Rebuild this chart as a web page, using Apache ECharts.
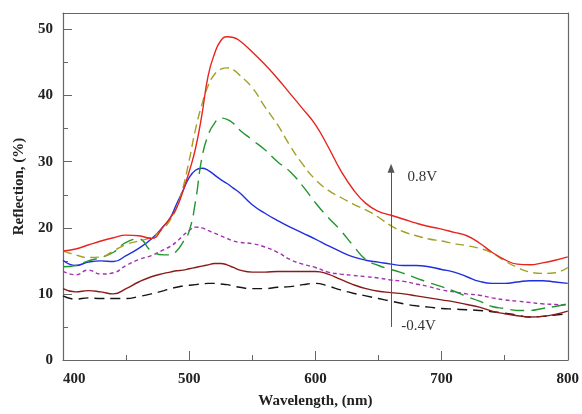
<!DOCTYPE html>
<html>
<head>
<meta charset="utf-8">
<script src="https://cdn.jsdelivr.net/npm/echarts@6/dist/echarts.min.js"></script>
<style>
  html, body { margin: 0; padding: 0; background: #fff; }
  #chart { width: 582px; height: 414px; }
</style>
</head>
<body>
<div id="chart"></div>
<script>
// wavelength grid (nm)
const wavelength = [400, 410, 420, 430, 440, 450, 460, 470, 480,
  485, 490, 495, 500, 505, 510, 515, 520, 525, 530, 535, 540,
  550, 560, 570, 580, 590, 600, 610, 620, 630, 640, 650, 660, 670, 680, 690,
  700, 710, 720, 730, 740, 750, 760, 770, 780, 790, 800]

// reflection (%) for each curve, from 0.8V down to -0.4V
const redVals = [16.5, 16.8, 17.4, 18.0, 18.5, 18.9, 18.8, 18.4, 20.3,
  21.5, 23.0, 25.5, 28.5, 32.0, 37.0, 43.0, 46.3, 48.3, 48.9, 48.8, 48.3,
  46.6, 44.7, 42.6, 40.3, 38.0, 35.6, 32.3, 28.7, 25.8, 23.7, 22.5, 21.9, 21.3, 20.7, 20.2,
  19.8, 19.3, 18.8, 17.7, 16.3, 15.2, 14.5, 14.4, 14.7, 15.1, 15.6]
const oliveVals = [16.5, 15.9, 15.5, 15.6, 16.5, 17.5, 18.0, 18.6, 20.0,
  21.2, 23.0, 26.0, 30.2, 34.9, 38.6, 41.5, 43.2, 44.0, 44.2, 43.9, 43.1,
  41.2, 38.3, 35.6, 32.4, 29.6, 27.3, 25.7, 24.6, 23.6, 22.7, 21.6, 20.3, 19.4, 18.8, 18.3,
  18.0, 17.6, 17.3, 16.9, 16.2, 15.0, 14.0, 13.3, 13.1, 13.2, 14.0]
const greenVals = [14.1, 14.3, 15.0, 15.5, 16.3, 17.8, 18.3, 16.5, 15.9,
  15.9, 16.5, 17.8, 19.5, 24.0, 30.5, 34.0, 35.8, 36.6, 36.4, 35.8, 34.8,
  33.3, 31.8, 30.0, 28.5, 26.3, 23.8, 21.6, 19.6, 17.3, 15.2, 14.3, 13.7, 13.1, 12.4, 11.7,
  11.1, 10.4, 9.6, 8.9, 8.1, 7.8, 7.5, 7.5, 7.8, 8.1, 8.5]
const blueVals = [15.1, 14.3, 14.8, 15.0, 14.9, 15.8, 16.9, 18.3, 20.3,
  21.5, 23.6, 25.6, 27.6, 28.7, 29.0, 28.7, 28.0, 27.3, 26.7, 26.0, 25.3,
  23.5, 22.2, 21.1, 20.1, 19.2, 18.3, 17.3, 16.4, 15.6, 15.1, 14.8, 14.5, 14.3, 14.3, 14.1,
  13.7, 13.3, 12.6, 11.9, 11.6, 11.6, 11.8, 12.0, 12.0, 11.8, 11.6]
const purpleVals = [13.4, 12.9, 13.6, 13.0, 13.2, 14.3, 15.2, 15.8, 16.7,
  17.2, 17.9, 18.8, 19.6, 20.1, 20.0, 19.6, 19.2, 18.8, 18.4, 18.0, 17.8,
  17.6, 17.1, 16.3, 15.2, 14.5, 14.0, 13.3, 13.0, 12.8, 12.6, 12.4, 12.1, 11.9, 11.5, 11.1,
  10.6, 10.3, 10.0, 9.8, 9.4, 9.1, 8.9, 8.7, 8.5, 8.4, 8.3]
const brownVals = [10.8, 10.3, 10.5, 10.3, 10.0, 10.8, 11.8, 12.6, 13.1,
  13.3, 13.5, 13.6, 13.8, 14.0, 14.2, 14.4, 14.6, 14.6, 14.4, 14.0, 13.6,
  13.3, 13.3, 13.4, 13.4, 13.4, 13.4, 13.0, 12.2, 11.4, 10.8, 10.4, 10.2, 10.0, 9.7, 9.4,
  9.1, 8.8, 8.4, 8.0, 7.4, 7.0, 6.7, 6.5, 6.6, 6.9, 7.4]
const blackVals = [9.7, 9.2, 9.4, 9.3, 9.3, 9.3, 9.6, 10.0, 10.5,
  10.8, 11.0, 11.2, 11.3, 11.4, 11.5, 11.6, 11.6, 11.5, 11.4, 11.2, 11.0,
  10.8, 10.8, 11.0, 11.1, 11.4, 11.6, 11.2, 10.6, 10.1, 9.7, 9.3, 8.9, 8.5, 8.2, 8.0,
  7.8, 7.7, 7.6, 7.5, 7.3, 7.1, 6.8, 6.5, 6.6, 6.8, 7.0]

// arrow from -0.4V up to 0.8V
const arrowX = 660
const arrowY = [5, 29]
const labelHigh = { text: '0.8V', at: [673, 27.7] }
const labelLow = { text: '-0.4V', at: [668, 5.1] }

const serif = '"Liberation Serif", "Times New Roman", serif'
const axisColor = '#666'

function pairs(vals) {
  return wavelength.map((w, i) => [w, vals[i]])
}

function line(vals, color, type, extra) {
  return Object.assign({
    type: 'line',
    data: pairs(vals),
    smooth: 0.5,
    symbol: 'none',
    lineStyle: { color: color, width: 1.4, type: type },
  }, extra || {})
}

// plain frame line for top / right
const frame = {
  show: true,
  axisLine: { show: true, onZero: false, lineStyle: { color: axisColor, width: 1.2 } },
  axisTick: { show: false },
  axisLabel: { show: false },
  splitLine: { show: false },
}

const chart = echarts.init(document.getElementById('chart'))
chart.setOption({
  animation: false,
  grid: { left: 63, right: 11, top: 13, bottom: 52 },
  xAxis: [
    {
      type: 'value',
      min: 400, max: 800, interval: 100,
      name: 'Wavelength, (nm)',
      nameLocation: 'middle',
      nameGap: 34,
      nameTextStyle: { fontFamily: serif, fontWeight: 'bold', fontSize: 15, color: '#222' },
      axisLine: { onZero: false, lineStyle: { color: axisColor, width: 1.2 } },
      axisTick: { inside: true, length: 9, lineStyle: { color: axisColor } },
      minorTick: { show: true, splitNumber: 2, length: 5, lineStyle: { color: axisColor } },
      splitLine: { show: false },
      axisLabel: {
        fontFamily: serif, fontWeight: 'bold', fontSize: 15, color: '#222',
        margin: 12, alignMinLabel: 'left',
      },
    },
    Object.assign({ type: 'value', position: 'top', min: 400, max: 800 }, frame),
  ],
  yAxis: [
    {
      type: 'value',
      min: 0, max: 52.5, interval: 10,
      name: 'Reflection, (%)',
      nameLocation: 'middle',
      nameGap: 36,
      nameTextStyle: { fontFamily: serif, fontWeight: 'bold', fontSize: 15, color: '#222' },
      axisLine: { show: true, onZero: false, lineStyle: { color: axisColor, width: 1.2 } },
      axisTick: { inside: true, length: 9, lineStyle: { color: axisColor } },
      splitLine: { show: false },
      axisLabel: {
        fontFamily: serif, fontWeight: 'bold', fontSize: 15, color: '#222',
        margin: 10, showMaxLabel: false,
      },
    },
    {
      // minor ticks only
      type: 'value',
      position: 'left',
      min: 0, max: 52.5, interval: 5,
      axisLine: { show: false },
      axisTick: { inside: true, length: 5, lineStyle: { color: axisColor } },
      splitLine: { show: false },
      axisLabel: { show: false },
    },
    Object.assign({ type: 'value', position: 'right', min: 0, max: 52.5 }, frame),
  ],
  series: [
    line(blackVals, '#151515', [10, 6]),
    line(brownVals, '#8b1a1a', 'solid'),
    line(purpleVals, '#a232b0', [4, 3]),
    line(blueVals, '#1f2fe0', 'solid'),
    line(greenVals, '#22962e', [14, 7]),
    line(oliveVals, '#a3a025', [9, 5]),
    line(redVals, '#e8241e', 'solid', {
      markLine: {
        silent: true,
        symbol: ['none', 'triangle'],
        symbolSize: [7, 9],
        label: { show: false },
        lineStyle: { color: '#555', width: 1, type: 'solid' },
        data: [[{ coord: [arrowX, arrowY[0]] }, { coord: [arrowX, arrowY[1]] }]],
      },
      markPoint: {
        silent: true,
        symbol: 'circle',
        symbolSize: 0,
        label: {
          show: true, position: 'right', distance: 0,
          fontFamily: serif, fontSize: 15, color: '#333',
          formatter: p => p.name,
        },
        data: [
          { name: labelHigh.text, coord: labelHigh.at },
          { name: labelLow.text, coord: labelLow.at },
        ],
      },
    }),
  ],
})
</script>
</body>
</html>
